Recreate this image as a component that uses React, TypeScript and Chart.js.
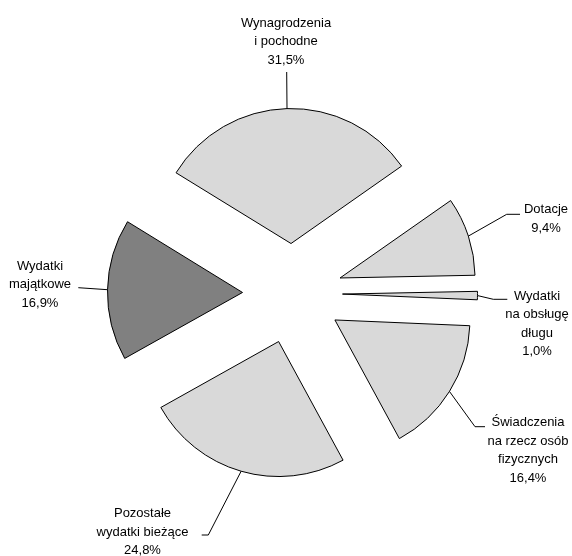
import React, { useEffect, useRef } from "react";
import { Chart, registerables } from "chart.js";

Chart.register(...registerables);

// ---- Data ----
const CATEGORIES: string[][] = [
  ["Wynagrodzenia", "i pochodne"],
  ["Dotacje"],
  ["Wydatki", "na obsługę", "długu"],
  ["Świadczenia", "na rzecz osób", "fizycznych"],
  ["Pozostałe", "wydatki bieżące"],
  ["Wydatki", "majątkowe"],
];
const SHARES: number[] = [31.5, 9.4, 1.0, 16.4, 24.8, 16.9];

// ---- Style / layout (not data) ----
const COLORS = ["#d9d9d9", "#d9d9d9", "#d9d9d9", "#d9d9d9", "#d9d9d9", "#808080"];
const EXPLODE = 50;
const RADIUS = 135;
const LINE_H = 18.5;
const FONT = "13px 'Liberation Sans', Arial, sans-serif";
// leader-line bend points and label text anchor (center x, first line y)
const LABEL_LAYOUT: { path: number[][]; text: number[] }[] = [
  { path: [[286.7, 72]], text: [286, 23] },
  { path: [[506.7, 214.3], [520, 214.3]], text: [546, 209.5] },
  { path: [[493.3, 299.3], [507.3, 299.3]], text: [537, 296] },
  { path: [[475, 426.7], [485, 426.7]], text: [528, 422.5] },
  { path: [[208.3, 535], [201.7, 535]], text: [142.5, 513.5] },
  { path: [[78.3, 287.7]], text: [40, 266] },
];

const fmt = (v: number) => v.toFixed(1).replace(".", ",") + "%";

const explodePlugin = {
  id: "explode",
  afterDatasetsUpdate(chart: any) {
    const meta = chart.getDatasetMeta(0);
    meta.data.forEach((arc: any) => {
      const mid = (arc.startAngle + arc.endAngle) / 2;
      arc.x = arc.x + EXPLODE * Math.cos(mid);
      arc.y = arc.y + EXPLODE * Math.sin(mid);
    });
  },
};

const labelPlugin = {
  id: "pieLabels",
  afterDatasetsDraw(chart: any) {
    const ctx = chart.ctx;
    const meta = chart.getDatasetMeta(0);
    ctx.save();
    ctx.strokeStyle = "#000";
    ctx.lineWidth = 1;
    ctx.fillStyle = "#000";
    ctx.font = FONT;
    ctx.textAlign = "center";
    ctx.textBaseline = "middle";
    meta.data.forEach((arc: any, i: number) => {
      const mid = (arc.startAngle + arc.endAngle) / 2;
      const sx = arc.x + arc.outerRadius * Math.cos(mid);
      const sy = arc.y + arc.outerRadius * Math.sin(mid);
      const lay = LABEL_LAYOUT[i];
      ctx.beginPath();
      ctx.moveTo(sx, sy);
      lay.path.forEach((p) => ctx.lineTo(p[0], p[1]));
      ctx.stroke();
      const lines = [...CATEGORIES[i], fmt(SHARES[i])];
      lines.forEach((t, k) => {
        ctx.fillText(t, lay.text[0], lay.text[1] + k * LINE_H);
      });
    });
    ctx.restore();
  },
};

export default function App() {
  const ref = useRef<HTMLCanvasElement | null>(null);
  useEffect(() => {
    if (!ref.current) return;
    const chart = new Chart(ref.current, {
      type: "pie",
      data: {
        labels: CATEGORIES.map((c) => c.join(" ")),
        datasets: [
          {
            data: SHARES,
            backgroundColor: COLORS,
            borderColor: "#000",
            borderWidth: 1,
            borderJoinStyle: "miter",
            offset: 0,
            hoverOffset: 0,
          } as any,
        ],
      },
      options: {
        responsive: false,
        animation: false,
        events: [],
        rotation: -58.4,
        radius: RADIUS,
        layout: { padding: { left: 13, top: 31, right: 0, bottom: 0 } },
        plugins: {
          legend: { display: false },
          tooltip: { enabled: false },
          title: { display: false },
        },
      } as any,
      plugins: [explodePlugin, labelPlugin],
    });
    return () => chart.destroy();
  }, []);
  return (
    <div style={{ position: "absolute", left: 0, top: 0, width: 572, height: 556, background: "#fff" }}>
      <canvas ref={ref} width={572} height={556} style={{ display: "block" }} />
    </div>
  );
}
